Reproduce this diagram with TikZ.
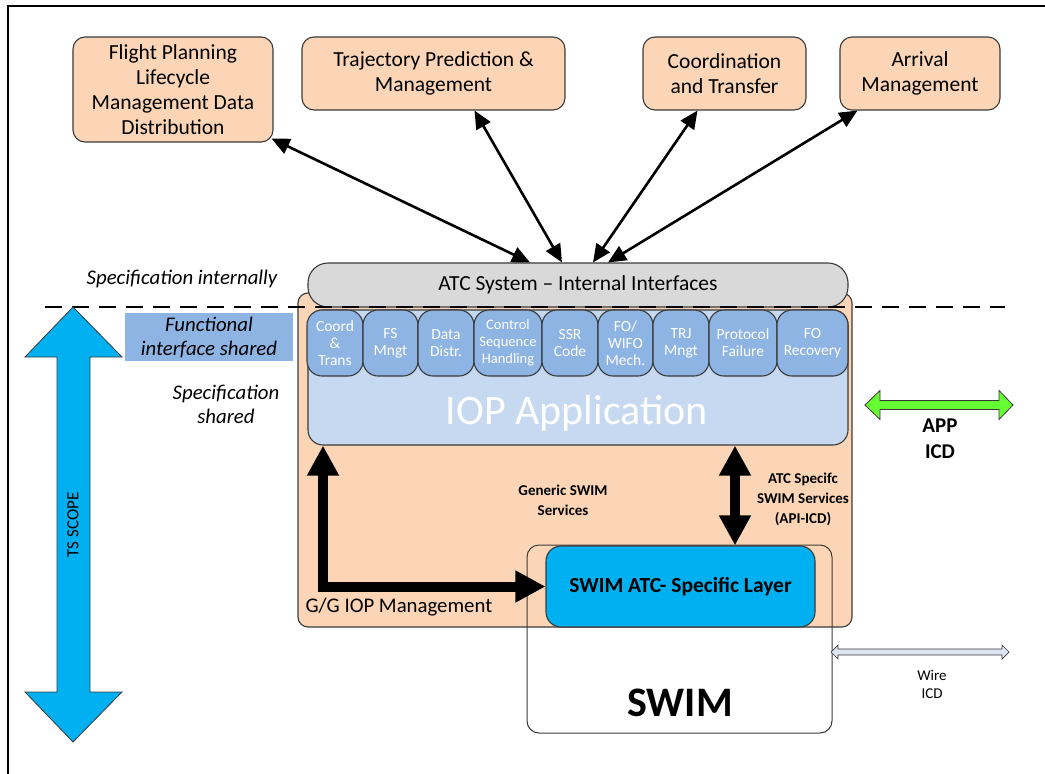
\documentclass[tikz,border=0pt]{standalone}
\usepackage{fontspec}
\setmainfont{Carlito}
\usetikzlibrary{arrows.meta,calc}

\definecolor{peach}{HTML}{FBD5B5}
\definecolor{modblue}{HTML}{8EB4E3}
\definecolor{appblue}{HTML}{C6D9F1}
\definecolor{atcgray}{HTML}{D9D9D9}
\definecolor{swimcyan}{HTML}{00B0F0}
\definecolor{icdgreen}{HTML}{66FF33}
\definecolor{wirefill}{HTML}{DCE6F2}
\definecolor{darkline}{HTML}{3A3A3A}

\tikzset{
  topbox/.style={draw=darkline, fill=peach, line width=1.1pt, rounded corners=12pt,
    align=center, inner sep=0pt, font=\fontsize{21.5}{25}\selectfont},
  modbox/.style={draw=darkline, fill=modblue, line width=1.1pt, rounded corners=15pt,
    minimum height=66pt, inner sep=0pt, align=center, text=white,
    font=\fontsize{15.5}{17}\selectfont},
  link/.style={line width=2.6pt, {Triangle[length=18pt,width=16pt]}-{Triangle[length=18pt,width=16pt]}},
  fat/.style={line width=10pt, line join=miter, {Triangle[length=30pt,width=30pt]}-{Triangle[length=30pt,width=30pt]}},
  note/.style={align=center, font=\itshape\fontsize{20.8}{24}\selectfont},
  bnote/.style={align=center, font=\bfseries\fontsize{15}{20}\selectfont},
}

\begin{document}
\begin{tikzpicture}[x=1pt, y=-1pt]
    \useasboundingbox (0,0) rectangle (1045,774);

    % Frame
    \draw[line width=2.2pt] (8,774) -- (8,6) -- (1045,6);

    % Functions on top
    \node[topbox, minimum width=200pt, minimum height=105pt] (fp) at (173,89.5)
        {Flight Planning\\Lifecycle\\Management Data\\Distribution};
    \node[topbox, minimum width=263pt, minimum height=73pt] (traj) at (433.5,73.5)
        {Trajectory Prediction \&\\Management};
    \node[topbox, minimum width=163pt, minimum height=73pt] (coord) at (724.5,73.5)
        {Coordination\\and Transfer};
    \node[topbox, minimum width=160pt, minimum height=73pt] (arr) at (920,73.5)
        {Arrival\\Management};

    % G/G IOP management block
    \node[draw=darkline, fill=peach, line width=1.1pt, rounded corners=10pt,
          minimum width=554pt, minimum height=334pt] (iopm) at (575,460) {};
    \node[anchor=west, font=\fontsize{20.8}{24}\selectfont] (iopmt) at (302,607) {G/G IOP Management};

    % ATC system
    \node[draw=darkline, fill=atcgray, line width=1.1pt, rounded corners=20pt,
          minimum width=540pt, minimum height=44pt, font=\fontsize{21.5}{24}\selectfont]
          (atc) at (578,285) {ATC System -- Internal Interfaces};

    % IOP application
    \node[draw=darkline, fill=appblue, line width=1.1pt, rounded corners=15pt,
          minimum width=540pt, minimum height=135pt] (iop) at (578,377.5) {};
    \node[text=white, font=\fontsize{42}{48}\selectfont] (iopt) at (577,413) {IOP Application};

    % Modules
    \node[modbox, minimum width=56pt] (m1) at (335,343) {Coord\\\&\\Trans};
    \node[modbox, minimum width=55pt] (m2) at (390.5,343) {FS\\Mngt};
    \node[modbox, minimum width=56pt] (m3) at (446,343) {Data\\Distr.};
    \node[modbox, minimum width=68pt, font=\fontsize{14.5}{17}\selectfont] (m4) at (508,343)
        {Control\\Sequence\\Handling};
    \node[modbox, minimum width=56pt] (m5) at (570,343) {SSR\\Code};
    \node[modbox, minimum width=55pt] (m6) at (625.5,343) {FO/\\WIFO\\Mech.};
    \node[modbox, minimum width=56pt] (m7) at (681,343) {TRJ\\Mngt};
    \node[modbox, minimum width=68pt] (m8) at (743,343) {Protocol\\Failure};
    \node[modbox, minimum width=71pt] (m9) at (812.5,343) {FO\\Recovery};

    % Scope line
    \draw[line width=2pt, dash pattern=on 17pt off 10pt] (45,307) -- (1005,307);
    \node[note] (specint) at (182,279) {Specification internally};
    \node[note, fill=modblue, minimum width=168pt, minimum height=48pt, inner sep=0pt]
        (fis) at (209,337) {Functional\\interface shared};
    \node[note] (specsh) at (226,404) {Specification\\shared};

    % SWIM
    \node[draw=darkline, line width=1pt, rounded corners=12pt,
          minimum width=305pt, minimum height=188pt] (swim) at (679.5,639) {};
    \node[font=\bfseries\fontsize{42}{48}\selectfont] (swimt) at (680,703) {SWIM};
    \node[draw=darkline, fill=swimcyan, line width=1.1pt, rounded corners=15pt,
          minimum width=269pt, minimum height=81pt, font=\bfseries\fontsize{21.5}{24}\selectfont]
          (swimatc) at (680.5,586.5) {SWIM ATC- Specific Layer};

    % Links to the functions
    \draw[link] ([xshift=-2pt,yshift=4pt]fp.south east) -- ([xshift=-48pt]atc.north);
    \draw[link] ([xshift=41pt]traj.south) -- ([xshift=-16pt]atc.north);
    \draw[link] ([xshift=-27pt]coord.south) -- ([xshift=15pt]atc.north);
    \draw[link] ([xshift=18pt]arr.south west) -- ([xshift=30pt]atc.north);

    % SWIM services
    \coordinate (gpix) at (323,0);
    \coordinate (apix) at (735,0);
    \draw[fat] (iop.south -| gpix) |- (swimatc.west);
    \draw[fat] (iop.south -| apix) -- (swimatc.north -| apix);
    \node[bnote] (gen) at (563,500) {Generic SWIM\\Services};
    \node[bnote] (api) at (803,499) {ATC Specifc\\SWIM Services\\(API-ICD)};

    % TS scope
    \filldraw[fill=swimcyan, draw=darkline, line width=0.8pt]
        (73,307) -- (122,357) -- (90,357) -- (90,692) -- (122,692) -- (73,742)
        -- (25,692) -- (57,692) -- (57,357) -- (25,357) -- cycle;
    \node[rotate=90, font=\fontsize{17}{20}\selectfont] (ts) at (73,525) {TS SCOPE};

    % Interface control documents
    \filldraw[fill=icdgreen, draw=darkline, line width=0.8pt]
        (865,405) -- (880,390.5) -- (880,400.5) -- (999,400.5) -- (999,390.5) -- (1013,405)
        -- (999,419.5) -- (999,409.5) -- (880,409.5) -- (880,419.5) -- cycle;
    \node[align=center, font=\bfseries\fontsize{21}{26}\selectfont] (appicd) at (940,439) {APP\\ICD};
    \filldraw[fill=wirefill, draw=darkline, line width=0.7pt]
        (831,652) -- (838,645) -- (838,649) -- (1002,649) -- (1002,645) -- (1009,652)
        -- (1002,659) -- (1002,655) -- (838,655) -- (838,659) -- cycle;
    \node[align=center, font=\fontsize{15}{18}\selectfont] (wireicd) at (932,684) {Wire\\ICD};
\end{tikzpicture}
\end{document}
